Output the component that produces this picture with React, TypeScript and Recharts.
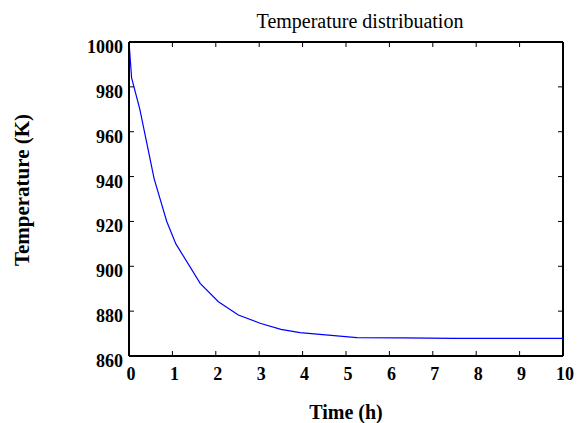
import React from 'react';
import { LineChart, Line, XAxis, YAxis, ReferenceLine, Label } from 'recharts';

// Time (h) and temperature (K)
const TIME = [0, 0.06, 0.25, 0.58, 0.87, 1.08, 1.64, 2.06, 2.52, 3.02, 3.5, 3.94, 5.25, 6.3, 7.5, 10];
const TEMP = [1000, 984, 970, 939, 920, 910, 892.4, 884.2, 878.3, 874.6, 871.9, 870.4, 868.2, 868.1, 867.9, 867.9];

const X_TICKS = [0, 1, 2, 3, 4, 5, 6, 7, 8, 9, 10];
const Y_TICKS = [860, 880, 900, 920, 940, 960, 980, 1000];

const data = TIME.map((t, i) => ({ t, temp: TEMP[i] }));

// Plot box geometry (chart margins below give these)
const W = 585;
const H = 423;
const LEFT = 129;
const TOP = 42;
const RIGHT = 563;
const BOTTOM = 356;
const TICK = 5;
const FONT = 'Liberation Serif, Times New Roman, serif';

const YTick = (props: any) => {
  const { x, y, payload } = props;
  return (
    <g>
      <line x1={LEFT} x2={LEFT + TICK} y1={y} y2={y} stroke="#000" strokeWidth={1} />
      <line x1={RIGHT - TICK} x2={RIGHT} y1={y} y2={y} stroke="#000" strokeWidth={1} />
      <text x={x} y={y + 11} textAnchor="end" fontFamily={FONT} fontWeight="bold" fontSize={18} fill="#000">
        {payload.value}
      </text>
    </g>
  );
};

const XTick = (props: any) => {
  const { x, payload } = props;
  return (
    <g>
      <line x1={x} x2={x} y1={BOTTOM} y2={BOTTOM - TICK} stroke="#000" strokeWidth={1} />
      <line x1={x} x2={x} y1={TOP} y2={TOP + TICK} stroke="#000" strokeWidth={1} />
      <text x={x + 2} y={BOTTOM + 24} textAnchor="middle" fontFamily={FONT} fontWeight="bold" fontSize={18} fill="#000">
        {payload.value}
      </text>
    </g>
  );
};

export default function App() {
  return (
    <div style={{ position: 'absolute', left: 0, top: 0, background: '#fff' }}>
      <LineChart width={W} height={H} data={data} margin={{ top: TOP, right: W - RIGHT, bottom: 0, left: 0 }}>
        <XAxis
          dataKey="t"
          type="number"
          domain={[0, 10]}
          ticks={X_TICKS}
          allowDataOverflow
          height={H - BOTTOM}
          tickSize={0}
          tickMargin={0}
          tickLine={false}
          tick={<XTick />}
          axisLine={{ stroke: '#000', strokeWidth: 2 }}
        >
          <Label
            content={() => (
              <text x={346} y={419} textAnchor="middle" fontFamily={FONT} fontWeight="bold" fontSize={20} fill="#000">
                Time (h)
              </text>
            )}
          />
        </XAxis>
        <YAxis
          type="number"
          domain={[860, 1000]}
          ticks={Y_TICKS}
          allowDataOverflow
          width={LEFT}
          tickSize={0}
          tickMargin={6}
          tickLine={false}
          tick={<YTick />}
          axisLine={{ stroke: '#000', strokeWidth: 2 }}
        >
          <Label
            content={() => (
              <text
                x={29}
                y={190}
                transform="rotate(-90 29 190)"
                textAnchor="middle"
                fontFamily={FONT}
                fontWeight="bold"
                fontSize={21}
                fill="#000"
              >
                Temperature (K)
              </text>
            )}
          />
        </YAxis>
        <ReferenceLine y={1000} stroke="#000" strokeWidth={2}>
          <Label
            content={() => (
              <text x={360} y={28} textAnchor="middle" fontFamily={FONT} fontSize={20} fill="#000">
                Temperature distribuation
              </text>
            )}
          />
        </ReferenceLine>
        <ReferenceLine x={10} stroke="#000" strokeWidth={2} />
        <Line
          type="linear"
          dataKey="temp"
          stroke="#0000ff"
          strokeWidth={1.2}
          dot={false}
          isAnimationActive={false}
        />
      </LineChart>
    </div>
  );
}
